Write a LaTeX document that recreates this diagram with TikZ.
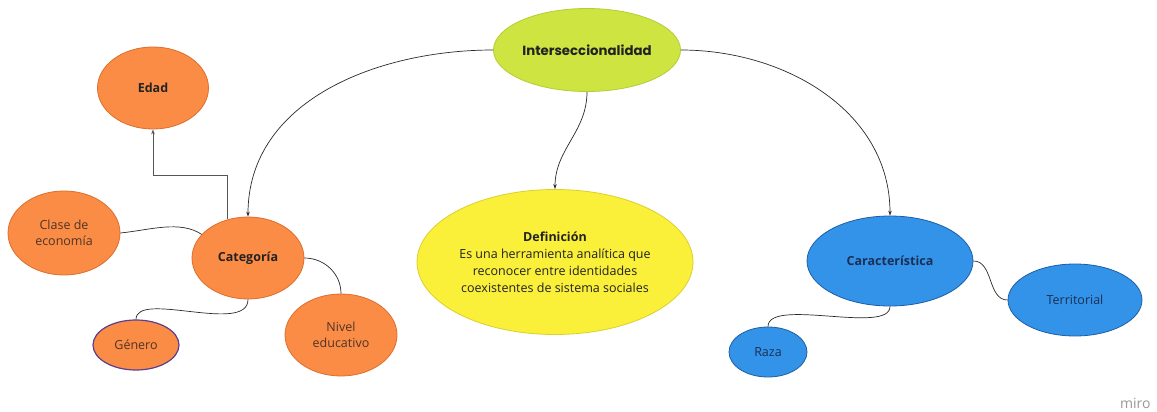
\documentclass[tikz,border=0pt]{standalone}
\usepackage{fontspec}
\setmainfont{Open Sans}
\newfontfamily\titlefont{Poppins}
\usetikzlibrary{arrows.meta,shapes.geometric}
\definecolor{limefill}{HTML}{CDE441}
\definecolor{limeedge}{HTML}{B5CC35}
\definecolor{yelfill}{HTML}{FAF03A}
\definecolor{yeledge}{HTML}{DCCF2E}
\definecolor{orfill}{HTML}{FA8C46}
\definecolor{oredge}{HTML}{DE6E2E}
\definecolor{bluefill}{HTML}{3393E8}
\definecolor{blueedge}{HTML}{1E5EA8}
\definecolor{purpedge}{HTML}{5B3E8E}
\definecolor{browntext}{HTML}{4D3526}
\definecolor{navytext}{HTML}{1B2F55}
\definecolor{darktext}{HTML}{222222}
\definecolor{lineclr}{HTML}{2A2A2A}
\definecolor{grayline}{HTML}{555555}
\begin{document}
\begin{tikzpicture}[x=1pt,y=-1pt,
  bub/.style={ellipse, draw, line width=0.8pt, inner sep=0pt, align=center,
    font=\fontsize{12.5}{16}\selectfont},
  orb/.style={bub, fill=orfill, draw=oredge, text=browntext},
  blb/.style={bub, fill=bluefill, draw=blueedge, text=navytext},
  boldlbl/.style={font=\bfseries\fontsize{12.5}{16}\selectfont},
  conn/.style={draw=lineclr, line width=0.7pt},
  arr/.style={conn, -{Stealth[length=5pt,width=3.5pt]}},
  garr/.style={draw=grayline, line width=0.9pt, -{Stealth[length=5pt,width=3.5pt]}}]
\useasboundingbox (0,0) rectangle (1157,412);
\fill[white] (0,0) rectangle (1157,412);
% nodes
\node[bub, fill=limefill, draw=limeedge, minimum width=187pt, minimum height=83pt,
  font=\titlefont\bfseries\fontsize{13.3}{16}\selectfont, text=darktext] (inter) at (587,50) {Interseccionalidad};
\node[orb, boldlbl, minimum width=111pt, minimum height=82pt, text=darktext] (edad) at (153,88) {Edad};
\node[orb, minimum width=112pt, minimum height=84pt] (clase) at (64,233) {Clase de\\economía};
\node[orb, boldlbl, minimum width=112pt, minimum height=82pt, text=darktext] (cat) at (248,258) {Categoría};
\node[orb, draw=purpedge, line width=1.2pt, minimum width=86pt, minimum height=50pt] (gen) at (136,345) {Género};
\node[orb, minimum width=112pt, minimum height=82pt] (nivel) at (341,335) {Nivel\\educativo};
\node[bub, fill=yelfill, draw=yeledge, minimum width=276pt, minimum height=145pt,
  text=darktext, font=\fontsize{12.5}{17}\selectfont] (def) at (555,262)
  {\textbf{Definición}\\Es una herramienta analítica que\\reconocer entre identidades\\coexistentes de sistema sociales};
\node[blb, boldlbl, minimum width=166pt, minimum height=90pt, text=navytext] (car) at (890,261) {Característica};
\node[blb, minimum width=134pt, minimum height=72pt] (terr) at (1075,300) {Territorial};
\node[blb, minimum width=78pt, minimum height=50pt] (raza) at (768,352) {Raza};
\node[text=black!40, font=\fontsize{14}{16}\selectfont, anchor=east] (miro) at (1154,403) {miro};
% connectors
\draw[arr] (inter.west) to[out=180,in=90] (cat.north);
\draw[arr] (inter.south) to[out=270,in=90] (def.north);
\draw[arr] (inter.east) to[out=0,in=90] (car.north);
\draw[garr] (cat.118) -- ++(0,-44) -| (edad.south);
\draw[conn] (clase.east) .. controls (150,230) and (180,220) .. (cat.153);
\draw[conn] (cat.east) to[out=0,in=90] (nivel.north);
\draw[conn] (cat.south) .. controls (248,335) and (136,290) .. (gen.north);
\draw[conn] (car.east) to[out=0,in=180] (terr.west);
\draw[conn] (car.south) .. controls (890,335) and (768,297) .. (raza.north);
\end{tikzpicture}
\end{document}
